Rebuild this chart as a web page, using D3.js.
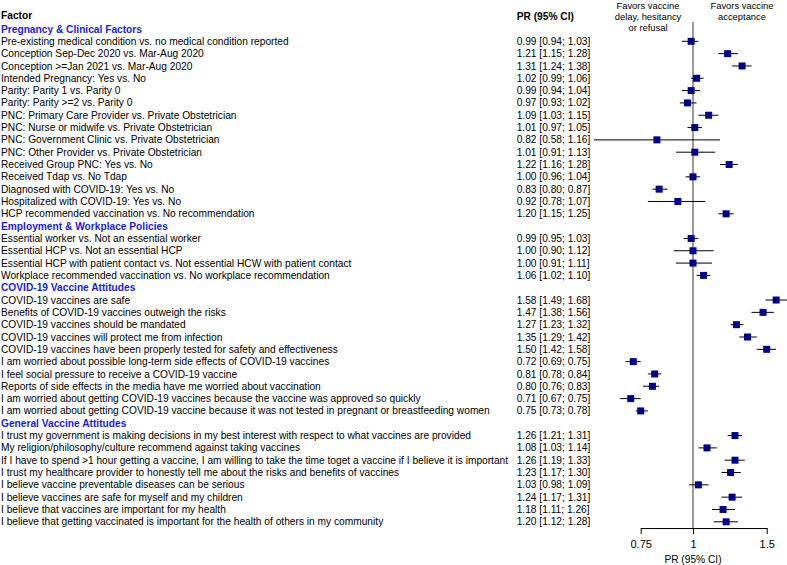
<!DOCTYPE html>
<html><head><meta charset="utf-8">
<script src="https://cdn.jsdelivr.net/npm/d3@7"></script>
<style>
html,body{margin:0;padding:0;background:#fff;}
svg{display:block;font-family:"Liberation Sans",Arial,Helvetica,sans-serif;}
</style></head>
<body><svg id="chart" width="787" height="565"></svg>
<script>
// ---- data ----
const sections = ["Pregnancy & Clinical Factors","Employment & Workplace Policies","COVID-19 Vaccine Attitudes","General Vaccine Attitudes"];
const sectionSizes = [15, 4, 10, 8];
const factors = [
 "Pre-existing medical condition vs. no medical condition reported",
 "Conception Sep-Dec 2020 vs. Mar-Aug 2020",
 "Conception >=Jan 2021 vs. Mar-Aug 2020",
 "Intended Pregnancy: Yes vs. No",
 "Parity: Parity 1 vs. Parity 0",
 "Parity: Parity >=2 vs. Parity 0",
 "PNC: Primary Care Provider vs. Private Obstetrician",
 "PNC: Nurse or midwife vs. Private Obstetrician",
 "PNC: Government Clinic vs. Private Obstetrician",
 "PNC: Other Provider vs. Private Obstetrician",
 "Received Group PNC: Yes vs. No",
 "Received Tdap vs. No Tdap",
 "Diagnosed with COVID-19: Yes vs. No",
 "Hospitalized with COVID-19: Yes vs. No",
 "HCP recommended vaccination vs. No recommendation",
 "Essential worker vs. Not an essential worker",
 "Essential HCP vs. Not an essential HCP",
 "Essential HCP with patient contact vs. Not essential HCW with patient contact",
 "Workplace recommended vaccination vs. No workplace recommendation",
 "COVID-19 vaccines are safe",
 "Benefits of COVID-19 vaccines outweigh the risks",
 "COVID-19 vaccines should be mandated",
 "COVID-19 vaccines will protect me from infection",
 "COVID-19 vaccines have been properly tested for safety and effectiveness",
 "I am worried about possible long-term side effects of COVID-19 vaccines",
 "I feel social pressure to receive a COVID-19 vaccine",
 "Reports of side effects in the media have me worried about vaccination",
 "I am worried about getting COVID-19 vaccines because the vaccine was approved so quickly",
 "I am worried about getting COVID-19 vaccine because it was not tested in pregnant or breastfeeding women",
 "I trust my government is making decisions in my best interest with respect to what vaccines are provided",
 "My religion/philosophy/culture recommend against taking vaccines",
 "If I have to spend >1 hour getting a vaccine, I am willing to take the time toget a vaccine if I believe it is important",
 "I trust my healthcare provider to honestly tell me about the risks and benefits of vaccines",
 "I believe vaccine preventable diseases can be serious",
 "I believe vaccines are safe for myself and my children",
 "I believe that vaccines are important for my health",
 "I believe that getting vaccinated is important for the health of others in my community"
];
const pr    = [0.99,1.21,1.31,1.02,0.99,0.97,1.09,1.01,0.82,1.01,1.22,1.00,0.83,0.92,1.20, 0.99,1.00,1.00,1.06, 1.58,1.47,1.27,1.35,1.50,0.72,0.81,0.80,0.71,0.75, 1.26,1.08,1.26,1.23,1.03,1.24,1.18,1.20];
const lower = [0.94,1.15,1.24,0.99,0.94,0.93,1.03,0.97,0.58,0.91,1.16,0.96,0.80,0.78,1.15, 0.95,0.90,0.91,1.02, 1.49,1.38,1.23,1.29,1.42,0.69,0.78,0.76,0.67,0.73, 1.21,1.03,1.19,1.17,0.98,1.17,1.11,1.12];
const upper = [1.03,1.28,1.38,1.06,1.04,1.02,1.15,1.05,1.16,1.13,1.28,1.04,0.87,1.07,1.25, 1.03,1.12,1.11,1.10, 1.68,1.56,1.32,1.42,1.58,0.75,0.84,0.83,0.75,0.78, 1.31,1.14,1.33,1.30,1.09,1.31,1.26,1.28];
const tickValues = [0.75, 1, 1.5];
const leftNote = ["Favors vaccine","delay, hesitancy","or refusal"];
const rightNote = ["Favors vaccine","acceptance"];

// ---- layout ----
const svg = d3.select("#chart");
const fs = 10.2;
const rowY0 = 29, rowH = 12.32;
const x = d3.scaleLog().domain([0.75, 1.5]).range([640.7, 766.7]);
const fmt = d3.format(".2f");

// build row list
const rows = [];
let k = 0, idx = 0;
sections.forEach((s, si) => {
  rows.push({type: "section", label: s, r: k++});
  for (let j = 0; j < sectionSizes[si]; j++) {
    rows.push({type: "item", label: factors[idx], pr: pr[idx], lo: lower[idx], hi: upper[idx], r: k++});
    idx++;
  }
});
const yOf = r => rowY0 + r * rowH;
const axisY = 528;

// reference line at 1
svg.append("line").attr("x1", x(1)).attr("x2", x(1)).attr("y1", 22).attr("y2", axisY)
  .attr("stroke", "#7a7a7a").attr("stroke-width", 1.5);

// headers
svg.append("text").attr("x", 1).attr("y", 15).attr("dy", "0.35em")
  .attr("font-size", fs).attr("font-weight", "bold").text("Factor");
svg.append("text").attr("x", 516.7).attr("y", 16).attr("dy", "0.35em")
  .attr("font-size", fs).attr("font-weight", "bold").text("PR (95% CI)");

svg.append("g").selectAll("text").data(leftNote).join("text")
  .attr("x", 648).attr("y", (d, i) => 5.5 + i * 11).attr("dy", "0.35em")
  .attr("text-anchor", "middle").attr("font-size", 9.4).text(d => d);
svg.append("g").selectAll("text").data(rightNote).join("text")
  .attr("x", 742).attr("y", (d, i) => 6 + i * 11).attr("dy", "0.35em")
  .attr("text-anchor", "middle").attr("font-size", 9.4).text(d => d);

// labels
svg.append("g").selectAll("text").data(rows).join("text")
  .attr("x", 1).attr("y", d => yOf(d.r)).attr("dy", "0.35em")
  .attr("font-size", fs)
  .attr("font-weight", d => d.type === "section" ? "bold" : null)
  .attr("fill", d => d.type === "section" ? "#1c1cd0" : "#000")
  .text(d => d.label);

const items = rows.filter(d => d.type === "item");
svg.append("g").selectAll("text").data(items).join("text")
  .attr("x", 516.7).attr("y", d => yOf(d.r)).attr("dy", "0.35em")
  .attr("font-size", fs)
  .text(d => `${fmt(d.pr)} [${fmt(d.lo)}; ${fmt(d.hi)}]`);

// CI lines
svg.append("g").selectAll("line").data(items).join("line")
  .attr("x1", d => x(d.lo)).attr("x2", d => x(d.hi))
  .attr("y1", d => yOf(d.r)).attr("y2", d => yOf(d.r))
  .attr("stroke", "#000").attr("stroke-width", 1);

// squares
const sq = 7;
svg.append("g").selectAll("rect").data(items).join("rect")
  .attr("x", d => x(d.pr) - sq / 2).attr("y", d => yOf(d.r) - sq / 2)
  .attr("width", sq).attr("height", sq).attr("fill", "#00008b");

// axis
const axis = d3.axisBottom(x).tickValues(tickValues).tickFormat(d => String(d))
  .tickSize(6).tickSizeOuter(0).tickPadding(6);
const ag = svg.append("g").attr("transform", `translate(0,${axisY})`).call(axis);
ag.selectAll("text").attr("font-size", 11).attr("font-family", "Liberation Sans, Arial, sans-serif");
ag.select(".domain").attr("stroke", "#000");
ag.selectAll(".tick line").attr("stroke", "#000");

svg.append("text").attr("x", x(1)).attr("y", 559).attr("dy", "0.35em")
  .attr("text-anchor", "middle").attr("font-size", fs).text("PR (95% CI)");
</script>
</body></html>
